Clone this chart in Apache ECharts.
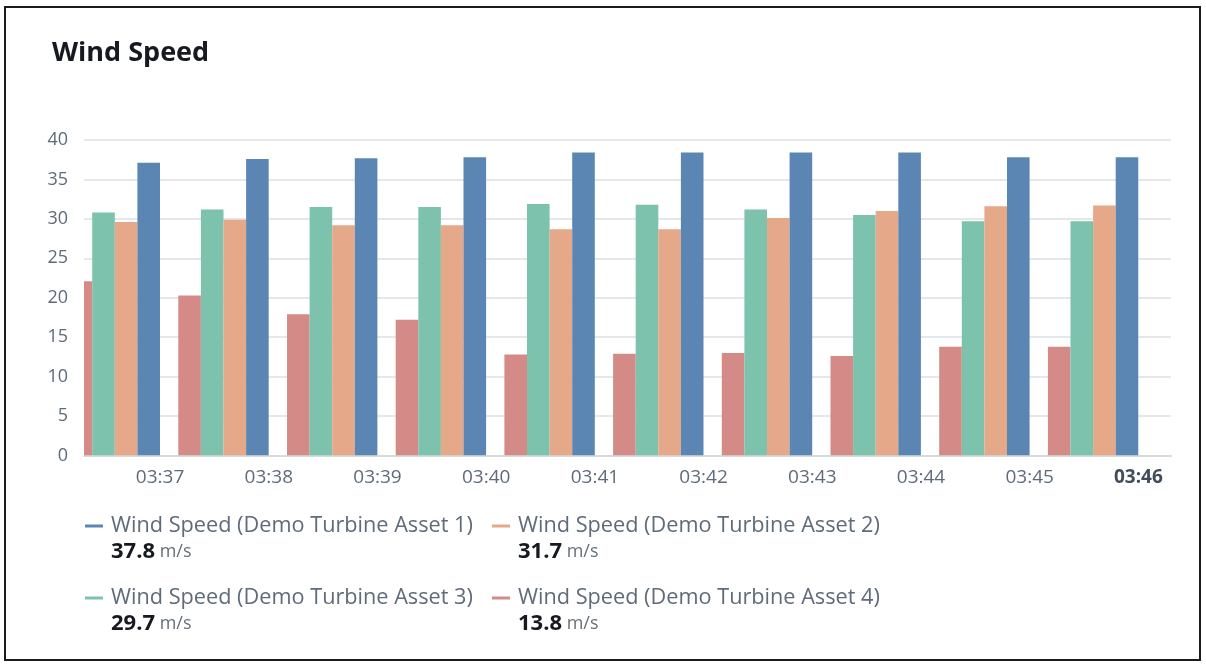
<!DOCTYPE html>
<html>
<head>
<meta charset="utf-8">
<title>Wind Speed</title>
<script src="https://cdn.jsdelivr.net/npm/echarts@6/dist/echarts.min.js"></script>
<style>
  html, body { margin: 0; padding: 0; background: #ffffff; }
  #chart { width: 1206px; height: 664px; }
</style>
</head>
<body>
<div id="chart"></div>
<script>
// Sample timestamps (one aggregated reading per minute)
const times = ['03:36:35', '03:37:35', '03:38:35', '03:39:35', '03:40:35',
               '03:41:35', '03:42:35', '03:43:35', '03:44:35', '03:45:35'];
// Visible time window of the widget
const windowStart = '03:36:18';
const windowEnd = '03:46:18';
// Minute tick labels along the time axis
const tickLabels = ['03:37', '03:38', '03:39', '03:40', '03:41',
                    '03:42', '03:43', '03:44', '03:45', '03:46'];

// Wind speed per turbine, m/s
const asset1 = [37.1, 37.6, 37.7, 37.8, 38.4, 38.4, 38.4, 38.4, 37.8, 37.8];
const asset2 = [29.6, 29.9, 29.2, 29.2, 28.7, 28.7, 30.1, 31.0, 31.6, 31.7];
const asset3 = [30.8, 31.2, 31.5, 31.5, 31.9, 31.8, 31.2, 30.5, 29.7, 29.7];
const asset4 = [22.1, 20.3, 17.9, 17.2, 12.8, 12.9, 13.0, 12.6, 13.8, 13.8];

const names = [
  'Wind Speed (Demo Turbine Asset 1)',
  'Wind Speed (Demo Turbine Asset 2)',
  'Wind Speed (Demo Turbine Asset 3)',
  'Wind Speed (Demo Turbine Asset 4)'
];
const unit = 'm/s';
const yTicks = [0, 5, 10, 15, 20, 25, 30, 35, 40];

const colors = ['#5b86b3', '#e5a888', '#7dc2ad', '#d48a87'];
const FONT = '"Open Sans", "Noto Sans", sans-serif';
const BAR_W = 22.6;

function toTime(hms) {
  const p = hms.split(':').map(Number);
  return new Date(2021, 0, 1, p[0], p[1], p[2] || 0).getTime();
}
function pad(n) { return (n < 10 ? '0' : '') + n; }

const seriesValues = [asset1, asset2, asset3, asset4];
const latest = {};
names.forEach((n, i) => {
  const arr = seriesValues[i];
  latest[n] = arr[arr.length - 1].toFixed(1);
});

// Bars sit side by side around each timestamp, left to right: Asset 4, 3, 2, 1
const drawOrder = [3, 2, 1, 0];
const series = drawOrder.map((i, slot) => ({
  name: names[i],
  type: 'custom',
  clip: true,
  itemStyle: { color: colors[i] },
  encode: { x: 0, y: 1 },
  data: times.map((t, k) => [toTime(t), seriesValues[i][k]]),
  renderItem: function (params, api) {
    const top = api.coord([api.value(0), api.value(1)]);
    const base = api.coord([api.value(0), 0]);
    const x = top[0] + (slot - (drawOrder.length - 1) / 2) * BAR_W - BAR_W / 2;
    return {
      type: 'rect',
      shape: { x: x, y: top[1], width: BAR_W, height: base[1] - top[1] },
      style: { fill: colors[i] }
    };
  }
}));

// One legend block per turbine: name on top, latest value + unit below
const legendPos = [
  { left: 85, top: 490 },
  { left: 492, top: 490 },
  { left: 85, top: 562 },
  { left: 492, top: 562 }
];
const legends = names.map((n, i) => ({
  data: [n],
  left: legendPos[i].left,
  top: legendPos[i].top,
  padding: 0,
  icon: 'rect',
  itemWidth: 18,
  itemHeight: 3,
  selectedMode: false,
  formatter: name => '{s| }\n{n|' + name + '}\n{v|' + latest[name] + '}{u| ' + unit + '}',
  textStyle: {
    fontFamily: FONT,
    rich: {
      s: { fontSize: 20, lineHeight: 26 },
      n: { fontSize: 21.7, lineHeight: 26, color: '#5f6b7a', fontFamily: FONT, padding: [0, 0, 0, 3] },
      v: { fontSize: 22, lineHeight: 26, color: '#16191f', fontWeight: 'bold', fontFamily: FONT, padding: [0, 0, 0, 3] },
      u: { fontSize: 18, lineHeight: 26, color: '#687078', fontFamily: FONT }
    }
  }
}));

const chart = echarts.init(document.getElementById('chart'), null, { renderer: 'canvas' });
chart.setOption({
  animation: false,
  backgroundColor: '#ffffff',
  title: {
    text: 'Wind Speed',
    left: 52,
    top: 40,
    padding: 0,
    textStyle: { fontFamily: FONT, fontSize: 27, fontWeight: 'bold', color: '#16191f' }
  },
  graphic: [{
    type: 'rect',
    shape: { x: 5, y: 7, width: 1195, height: 653 },
    style: { fill: 'none', stroke: '#1b1b1b', lineWidth: 2 },
    silent: true
  }],
  legend: legends,
  grid: { left: 84, right: 35, top: 140, bottom: 208.5 },
  xAxis: {
    type: 'time',
    min: toTime(windowStart),
    max: toTime(windowEnd),
    minInterval: 60000,
    maxInterval: 60000,
    axisLine: { show: true, lineStyle: { color: '#d5dbdb', width: 2 } },
    axisTick: { show: false },
    splitLine: { show: false },
    axisLabel: {
      margin: 13,
      fontFamily: FONT,
      fontSize: 19,
      color: '#5f6b7a',
      hideOverlap: false,
      formatter: function (value) {
        const d = new Date(value);
        if (d.getSeconds() !== 0 || d.getMilliseconds() !== 0) return '';
        const s = pad(d.getHours()) + ':' + pad(d.getMinutes());
        if (tickLabels.indexOf(s) < 0) return '';
        return s === tickLabels[tickLabels.length - 1] ? '{b|' + s + '}' : '{r|' + s + '}';
      },
      rich: {
        r: { fontFamily: FONT, fontSize: 19, color: '#5f6b7a' },
        b: { fontFamily: FONT, fontSize: 19, color: '#414d5c', fontWeight: 'bold' }
      }
    }
  },
  yAxis: {
    type: 'value',
    min: yTicks[0],
    max: yTicks[yTicks.length - 1],
    interval: yTicks[1] - yTicks[0],
    axisLine: { show: false },
    axisTick: { show: false },
    splitLine: { lineStyle: { color: '#dde1e3', width: 1.5 } },
    axisLabel: { margin: 16, fontFamily: FONT, fontSize: 18, color: '#5f6b7a' }
  },
  series: series
});
</script>
</body>
</html>
